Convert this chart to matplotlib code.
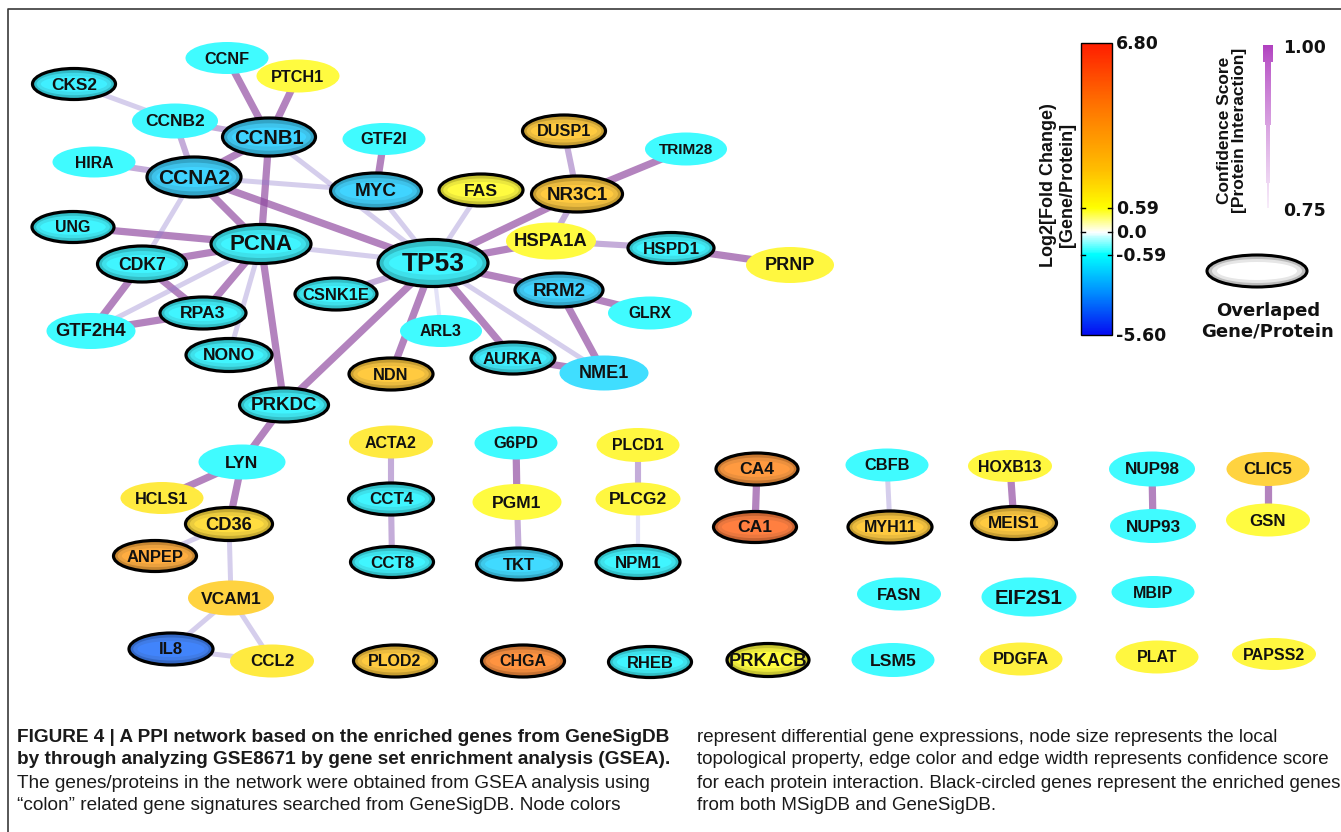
import numpy as np
import matplotlib
matplotlib.use("Agg")
import matplotlib.pyplot as plt
from matplotlib.patches import Ellipse, Rectangle
from matplotlib.colors import LinearSegmentedColormap

# ---------------- data ----------------
genes = ["CKS2", "CCNF", "PTCH1", "CCNB2", "CCNB1", "GTF2I", "HIRA", "CCNA2", "MYC", "FAS",
         "DUSP1", "TRIM28", "NR3C1", "UNG", "PCNA", "TP53", "HSPA1A", "HSPD1", "PRNP", "CDK7",
         "CSNK1E", "RRM2", "GLRX", "RPA3", "GTF2H4", "ARL3", "NONO", "NDN", "AURKA", "NME1",
         "PRKDC", "LYN", "HCLS1", "CD36", "ANPEP", "VCAM1", "IL8", "CCL2", "ACTA2", "CCT4",
         "CCT8", "G6PD", "PGM1", "TKT", "PLCD1", "PLCG2", "NPM1", "CA4", "CA1", "CBFB",
         "MYH11", "HOXB13", "MEIS1", "NUP98", "NUP93", "CLIC5", "GSN", "FASN", "EIF2S1", "MBIP",
         "PLOD2", "CHGA", "RHEB", "PRKACB", "LSM5", "PDGFA", "PLAT", "PAPSS2"]

log2fc = [-1.0, -0.7, 0.7, -0.8, -1.8, -0.7, -0.7, -1.8, -1.8, 0.7,
          2.2, -0.7, 2.2, -0.9, -0.9, -0.9, 0.7, -0.9, 0.8, -0.9,
          -0.9, -1.8, -0.7, -0.9, -0.7, -0.7, -0.9, 2.2, -1.0, -1.5,
          -0.9, -0.7, 1.2, 1.6, 3.5, 1.9, -4.0, 1.2, 1.2, -0.9,
          -0.9, -0.7, 0.7, -1.6, 0.8, 0.8, -0.9, 4.3, 5.3, -0.7,
          2.2, 0.8, 2.2, -0.7, -0.7, 1.9, 0.7, -0.7, -0.7, -0.7,
          2.2, 4.6, -0.9, 0.65, -0.7, 1.0, 0.8, 0.8]

overlapped = ["CKS2", "CCNB1", "CCNA2", "MYC", "FAS", "DUSP1", "NR3C1", "UNG", "PCNA", "TP53",
              "HSPD1", "CDK7", "CSNK1E", "RRM2", "RPA3", "NONO", "NDN", "AURKA", "PRKDC", "CD36",
              "ANPEP", "IL8", "CCT4", "CCT8", "TKT", "NPM1", "CA4", "CA1", "MYH11", "MEIS1",
              "PLOD2", "CHGA", "RHEB", "PRKACB"]

edge_src = ["CCNF", "PTCH1", "CCNB1", "CCNB1", "GTF2I", "CCNA2", "CCNA2", "NR3C1", "HSPA1A", "HSPD1",
            "TP53", "RRM2", "RRM2", "TP53", "AURKA", "TP53", "TP53", "PCNA", "PCNA", "CDK7",
            "CDK7", "RPA3", "PRKDC", "LYN", "LYN", "G6PD", "CA4", "HOXB13", "NUP98", "CLIC5",
            "UNG", "PCNA", "TRIM28",
            "CCNB2", "HIRA", "NR3C1", "HSPA1A", "TP53", "ACTA2", "CCT4", "DUSP1", "PGM1", "PLCD1",
            "CCNB2",
            "CKS2", "CCNB1", "CCNA2", "CCNA2", "MYC", "FAS", "TP53", "TP53", "PCNA", "PCNA",
            "CD36", "CD36", "VCAM1", "VCAM1", "IL8", "CBFB",
            "TP53", "PLCG2"]
edge_dst = ["CCNB1", "CCNB1", "CCNA2", "PCNA", "MYC", "TP53", "PCNA", "TP53", "TP53", "PRNP",
            "RRM2", "GLRX", "NME1", "AURKA", "NME1", "NDN", "PRKDC", "RPA3", "PRKDC", "GTF2H4",
            "RPA3", "GTF2H4", "LYN", "HCLS1", "CD36", "PGM1", "CA1", "MEIS1", "NUP93", "GSN",
            "PCNA", "CDK7", "NR3C1",
            "CCNB1", "CCNA2", "HSPA1A", "HSPD1", "CSNK1E", "CCT4", "CCT8", "NR3C1", "TKT", "PLCG2",
            "CCNA2",
            "CCNB2", "TP53", "MYC", "CDK7", "TP53", "TP53", "NME1", "PCNA", "GTF2H4", "NONO",
            "ANPEP", "VCAM1", "IL8", "CCL2", "CCL2", "MYH11",
            "ARL3", "NPM1"]
edge_conf = [0.98] * 33 + [0.90] * 11 + [0.82] * 16 + [0.76] * 2

cbar_ticks = [6.80, 0.59, 0.0, -0.59, -5.60]
cbar_tick_labels = ["6.80", "0.59", "0.0", "-0.59", "-5.60"]
conf_ticks = [1.00, 0.75]

# ---------------- layout (pixel coordinates) ----------------
pos = {
    "CKS2": (74, 84, 83, 31), "CCNF": (227, 58, 83, 32), "PTCH1": (298, 76, 83, 33),
    "CCNB2": (175, 121, 86, 35), "CCNB1": (269, 137, 93, 38), "GTF2I": (384, 139, 83, 32),
    "HIRA": (94, 162, 83, 31), "CCNA2": (194, 177, 94, 40), "MYC": (376, 191, 91, 36),
    "FAS": (481, 190, 84, 32), "DUSP1": (564, 131, 83, 32), "TRIM28": (686, 149, 82, 33),
    "NR3C1": (577, 194, 91, 36), "UNG": (73, 227, 82, 31), "PCNA": (261, 244, 100, 39),
    "TP53": (433, 263, 110, 47), "HSPA1A": (551, 241, 90, 37), "HSPD1": (671, 248, 86, 31),
    "PRNP": (790, 265, 88, 36), "CDK7": (142, 264, 89, 36), "CSNK1E": (336, 294, 82, 32),
    "RRM2": (559, 290, 88, 34), "GLRX": (650, 313, 84, 33), "RPA3": (203, 313, 86, 32),
    "GTF2H4": (91, 331, 89, 36), "ARL3": (441, 331, 82, 32), "NONO": (229, 355, 86, 33),
    "NDN": (391, 374, 84, 32), "AURKA": (513, 358, 84, 32), "NME1": (604, 373, 89, 35),
    "PRKDC": (284, 405, 89, 34), "LYN": (242, 462, 87, 35), "HCLS1": (162, 498, 83, 32),
    "CD36": (229, 524, 87, 33), "ANPEP": (155, 556, 83, 31), "VCAM1": (231, 598, 86, 35),
    "IL8": (171, 649, 84, 32), "CCL2": (272, 661, 84, 33), "ACTA2": (391, 442, 84, 33),
    "CCT4": (391, 499, 85, 32), "CCT8": (392, 562, 83, 31), "G6PD": (516, 443, 83, 33),
    "PGM1": (517, 502, 89, 36), "TKT": (519, 564, 85, 32), "PLCD1": (638, 445, 83, 34),
    "PLCG2": (638, 499, 85, 33), "NPM1": (638, 562, 84, 33), "CA4": (757, 469, 82, 32),
    "CA1": (755, 527, 83, 31), "CBFB": (887, 465, 83, 33), "MYH11": (890, 527, 84, 32),
    "HOXB13": (1010, 466, 84, 32), "MEIS1": (1014, 523, 85, 33), "NUP98": (1152, 469, 86, 35),
    "NUP93": (1153, 526, 86, 34), "CLIC5": (1268, 469, 83, 34), "GSN": (1268, 520, 84, 33),
    "FASN": (899, 594, 84, 33), "EIF2S1": (1029, 597, 95, 39), "MBIP": (1153, 592, 83, 32),
    "PLOD2": (395, 661, 83, 32), "CHGA": (523, 661, 83, 32), "RHEB": (650, 662, 83, 31),
    "PRKACB": (768, 660, 82, 33), "LSM5": (893, 660, 83, 34), "PDGFA": (1021, 659, 83, 33),
    "PLAT": (1157, 657, 83, 33), "PAPSS2": (1274, 654, 84, 32),
}
label_size = {
    "CKS2": 12.4, "CCNF": 11.7, "PTCH1": 11.7, "CCNB2": 12.5, "CCNB1": 14.6, "GTF2I": 11.9,
    "HIRA": 11.3, "CCNA2": 15, "MYC": 13.6, "FAS": 12.6, "DUSP1": 11.7, "TRIM28": 11.1,
    "NR3C1": 13.5, "UNG": 11.4, "PCNA": 16, "TP53": 19, "HSPA1A": 13.3, "HSPD1": 12.3,
    "PRNP": 13, "CDK7": 12.7, "CSNK1E": 11.9, "RRM2": 13.5, "GLRX": 11.2, "RPA3": 12.6,
    "GTF2H4": 13.2, "ARL3": 11.5, "NONO": 12.6, "NDN": 11.7, "AURKA": 12, "NME1": 13,
    "PRKDC": 13.5, "LYN": 12.6, "HCLS1": 11.7, "CD36": 13.2, "ANPEP": 11.9, "VCAM1": 12.5,
    "IL8": 12, "CCL2": 12.2, "ACTA2": 11.5, "CCT4": 12.2, "CCT8": 12.2, "G6PD": 11.9,
    "PGM1": 12.5, "TKT": 12, "PLCD1": 11.4, "PLCG2": 12.6, "NPM1": 12.1, "CA4": 12.6,
    "CA1": 12.6, "CBFB": 11.8, "MYH11": 11.5, "HOXB13": 11.4, "MEIS1": 12.4, "NUP98": 12.3,
    "NUP93": 12.3, "CLIC5": 12.2, "GSN": 12.2, "FASN": 12, "EIF2S1": 14.7, "MBIP": 11.5,
    "PLOD2": 11.5, "CHGA": 11.5, "RHEB": 11.9, "PRKACB": 13.2, "LSM5": 12.6, "PDGFA": 11.7,
    "PLAT": 11.5, "PAPSS2": 11.5,
}

# ---------------- colour scales ----------------
anchor_vals = [-5.6, -3.0, -0.59, 0.0, 0.59, 2.0, 4.5, 6.8]
anchor_cols = [(0.02, 0.05, 0.95), (0.0, 0.55, 1.0), (0.0, 1.0, 1.0), (1, 1, 1),
               (1.0, 1.0, 0.0), (1.0, 0.75, 0.0), (1.0, 0.45, 0.0), (1.0, 0.12, 0.0)]
vmin, vmax = -5.6, 6.8
fc_cmap = LinearSegmentedColormap.from_list(
    "fc", [((v - vmin) / (vmax - vmin), c) for v, c in zip(anchor_vals, anchor_cols)])


def node_color(v):
    c = np.array(fc_cmap((v - vmin) / (vmax - vmin))[:3])
    return tuple(0.75 * c + 0.25)


def edge_style(conf):
    t = (conf - 0.75) / 0.25
    c0 = np.array([0.55, 0.55, 0.88, 0.22])
    c1 = np.array([0.56, 0.26, 0.60, 0.72])
    rgba = tuple(c0 + (c1 - c0) * t)
    lw = 2.9 + (5.4 - 2.9) * t
    return rgba, lw


# ---------------- figure ----------------
plt.rcParams['font.family'] = ['Liberation Sans', 'DejaVu Sans']
fig = plt.figure(figsize=(13.41, 8.32), dpi=100)
ax = fig.add_axes([0, 0, 1, 1])
ax.set_xlim(0, 1341)
ax.set_ylim(832, 0)
ax.axis('off')

# frame
ax.plot([8, 8, 1341], [832, 9, 9], color='#3a3a3a', lw=1.2, zorder=1, solid_capstyle='butt')

# edges
for s, d, cf in zip(edge_src, edge_dst, edge_conf):
    rgba, lw = edge_style(cf)
    x0, y0 = pos[s][:2]
    x1, y1 = pos[d][:2]
    ax.plot([x0, x1], [y0, y1], color=rgba[:3], alpha=rgba[3], lw=lw,
            solid_capstyle='butt', zorder=2)

# nodes
for g, v in zip(genes, log2fc):
    x, y, w, h = pos[g]
    col = np.array(node_color(v))
    if g in overlapped:
        dark = tuple(col * 0.78)
        ax.add_patch(Ellipse((x, y), w, h, facecolor=dark, edgecolor='black', lw=2.3, zorder=3))
        ax.add_patch(Ellipse((x, y), w * 0.9, h * 0.72, facecolor=tuple(col * 0.9 + 0.02),
                             edgecolor='none', zorder=3.1))
        ax.add_patch(Ellipse((x, y), w * 0.8, h * 0.5, facecolor=tuple(col),
                             edgecolor='none', zorder=3.2))
    else:
        ax.add_patch(Ellipse((x, y), w, h, facecolor=tuple(col), edgecolor='none', zorder=3))
    ax.text(x, y + 1, g, ha='center', va='center', fontsize=label_size[g],
            fontweight='bold', color='#111111', zorder=4)

# ---------------- fold-change colour bar ----------------
bx0, bx1 = 1081, 1112
tick_y = [43, 208, 232, 255, 335]
ys = np.arange(43, 336)
vals = np.interp(ys, tick_y, cbar_ticks)
img = np.array([fc_cmap((v - vmin) / (vmax - vmin)) for v in vals])[:, None, :]
ax.imshow(img, extent=[bx0, bx1, 335, 43], aspect='auto', zorder=2, interpolation='bilinear')
ax.add_patch(Rectangle((bx0, 43), bx1 - bx0, 292, fill=False, edgecolor='black', lw=1.0, zorder=3))
narrow = ['Liberation Sans Narrow', 'DejaVu Sans']
for tv, tl in zip(cbar_ticks, cbar_tick_labels):
    ty = np.interp(tv, cbar_ticks[::-1], tick_y[::-1])
    if tl not in ("6.80", "-5.60"):
        ax.plot([bx0, bx0 + 4], [ty, ty], color='black', lw=1.0, zorder=4)
        ax.plot([bx1 - 4, bx1], [ty, ty], color='black', lw=1.0, zorder=4)
    ax.text(1116, ty + 1, tl, ha='left', va='center', fontsize=12.5, fontweight='bold',
            family=narrow, color='#111111')
ax.text(1058, 185, "Log2[Fold Change)\n[Gene/Protein]", rotation=90, ha='center', va='center',
        fontsize=13, fontweight='bold', linespacing=1.1, color='#111111')

# ---------------- confidence legend ----------------
cy0, cy1 = 45, 208
segs = [(45, 62, 10), (62, 125, 6.5), (125, 183, 4), (183, 208, 2)]
top_c = np.array([0.69, 0.25, 0.75])
bot_c = np.array([0.97, 0.93, 0.98])
for ya, yb, wd in segs:
    for yy in np.arange(ya, yb, 1.0):
        t = (yy - cy0) / (cy1 - cy0)
        c = top_c + (bot_c - top_c) * t ** 0.8
        ax.add_patch(Rectangle((1268 - wd / 2, yy), wd, 1.05, facecolor=tuple(c),
                               edgecolor='none', zorder=3))
for cv in conf_ticks:
    ty = cy0 + (1.0 - cv) / 0.25 * (cy1 - cy0)
    ax.text(1283, ty + 3, f"{cv:.2f}", ha='left', va='center', fontsize=12.5,
            fontweight='bold', family=narrow, color='#111111')
ax.text(1232, 130, "Confidence Score\n[Protein Interaction]", rotation=90, ha='center',
        va='center', fontsize=12.5, fontweight='bold', linespacing=1.05, color='#111111')

# overlapped legend ellipse
ax.add_patch(Ellipse((1257, 271), 100, 32, facecolor='#bdbdbd', edgecolor='black', lw=2.2, zorder=3))
ax.add_patch(Ellipse((1257, 271), 90, 24, facecolor='#e6e6e6', edgecolor='none', zorder=3.1))
ax.add_patch(Ellipse((1257, 271), 80, 18, facecolor='white', edgecolor='none', zorder=3.2))
ax.text(1268, 321, "Overlaped\nGene/Protein", ha='center', va='center', fontsize=13,
        fontweight='bold', family=narrow, linespacing=1.2, color='#111111')

# ---------------- caption ----------------
left = [("FIGURE 4 | A PPI network based on the enriched genes from GeneSigDB", 'bold'),
        ("by through analyzing GSE8671 by gene set enrichment analysis (GSEA).", 'bold'),
        ("The genes/proteins in the network were obtained from GSEA analysis using", 'normal'),
        ("\u201ccolon\u201d related gene signatures searched from GeneSigDB. Node colors", 'normal')]
right = ["represent differential gene expressions, node size represents the local",
         "topological property, edge color and edge width represents confidence score",
         "for each protein interaction. Black-circled genes represent the enriched genes",
         "from both MSigDB and GeneSigDB."]
line_y = [737, 760, 783, 805]
for (t, wgt), yy in zip(left, line_y):
    ax.text(17, yy, t, ha='left', va='center', fontsize=13.7, fontweight=wgt, color='#1a1a1a')
for t, yy in zip(right, line_y):
    ax.text(697, yy, t, ha='left', va='center', fontsize=13.5, color='#1a1a1a')

fig.savefig("out.png", dpi=100)
